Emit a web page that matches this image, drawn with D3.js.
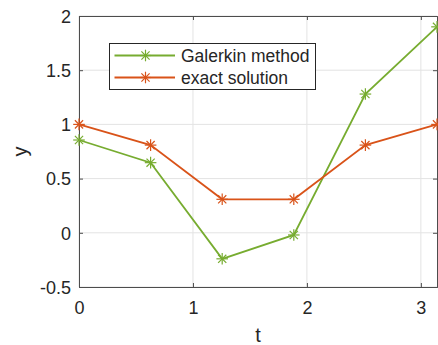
<!DOCTYPE html>
<html><head><meta charset="utf-8">
<script src="https://cdn.jsdelivr.net/npm/d3@7"></script>
<style>body{margin:0;background:#fff}svg{display:block}text{font-family:"Liberation Sans",Arial,sans-serif}</style>
</head><body>
<svg id="c" width="438" height="345"></svg>
<script>
const tValues = [0, Math.PI/5, 2*Math.PI/5, 3*Math.PI/5, 4*Math.PI/5, Math.PI];
const galerkin = [0.856, 0.647, -0.24, -0.02, 1.28, 1.90];
const exact = [1, 0.809, 0.309, 0.309, 0.809, 1];
const seriesNames = ["Galerkin method", "exact solution"];
const xTicks = [0, 1, 2, 3];
const yTicks = [-0.5, 0, 0.5, 1, 1.5, 2];
const colors = ["#77AC30", "#D95319"];

const svg = d3.select("#c");
const L = 79, R = 437, T = 16, B = 287;
const x = d3.scaleLinear().domain([0, Math.PI]).range([L, R]);
const y = d3.scaleLinear().domain([-0.5, 2]).range([B, T]);

// grid
const g = svg.append("g");
g.selectAll(".gx").data(xTicks).join("line")
  .attr("x1", d => x(d)).attr("x2", d => x(d)).attr("y1", T).attr("y2", B)
  .attr("stroke", "#e3e3e3").attr("stroke-width", 1);
g.selectAll(".gy").data(yTicks).join("line")
  .attr("y1", d => y(d)).attr("y2", d => y(d)).attr("x1", L).attr("x2", R)
  .attr("stroke", "#e3e3e3").attr("stroke-width", 1);

// axes
const ax = svg.append("g").attr("transform", `translate(0,${B})`)
  .call(d3.axisBottom(x).tickValues(xTicks).tickSize(-4).tickPadding(14).tickFormat(d3.format("d")));
const ay = svg.append("g").attr("transform", `translate(${L},0)`)
  .call(d3.axisLeft(y).tickValues(yTicks).tickSize(-4).tickPadding(8).tickFormat(d => String(d)));
const axT = svg.append("g").attr("transform", `translate(0,${T})`)
  .call(d3.axisTop(x).tickValues(xTicks).tickSize(-4).tickFormat(""));
const ayR = svg.append("g").attr("transform", `translate(${R},0)`)
  .call(d3.axisRight(y).tickValues(yTicks).tickSize(-4).tickFormat(""));
[ax, ay, axT, ayR].forEach(a => {
  a.select(".domain").attr("stroke", "#4d4d4d").attr("stroke-width", 1);
  a.selectAll(".tick line").attr("stroke", "#4d4d4d");
  a.selectAll("text").attr("fill", "#262626").style("font-size", "18px");
});
ax.selectAll("text").attr("dy", "0.71em");
ay.selectAll("text").attr("dy", "0.35em");

svg.append("text").attr("x", (L + R) / 2).attr("y", 342).attr("text-anchor", "middle")
  .style("font-size", "20px").attr("fill", "#262626").text("t");
svg.append("text").attr("transform", `translate(27,${(T + B) / 2}) rotate(-90)`).attr("text-anchor", "middle")
  .style("font-size", "20px").attr("fill", "#262626").text("y");

function star(sel, cx, cy, color) {
  const r = 5.8, d = r * 0.7071;
  const gg = sel.append("g").attr("stroke", color).attr("stroke-width", 1.2);
  gg.append("line").attr("x1", cx - r).attr("x2", cx + r).attr("y1", cy).attr("y2", cy);
  gg.append("line").attr("x1", cx).attr("x2", cx).attr("y1", cy - r).attr("y2", cy + r);
  gg.append("line").attr("x1", cx - d).attr("x2", cx + d).attr("y1", cy - d).attr("y2", cy + d);
  gg.append("line").attr("x1", cx - d).attr("x2", cx + d).attr("y1", cy + d).attr("y2", cy - d);
}

const line = d3.line().x(d => x(d[0])).y(d => y(d[1]));
[galerkin, exact].forEach((vals, i) => {
  const pts = tValues.map((t, j) => [t, vals[j]]);
  svg.append("path").attr("d", line(pts)).attr("fill", "none")
    .attr("stroke", colors[i]).attr("stroke-width", 1.8);
  pts.forEach(p => star(svg, x(p[0]), y(p[1]), colors[i]));
});

// legend
const lg = svg.append("g");
lg.append("rect").attr("x", 109.5).attr("y", 43.5).attr("width", 206).attr("height", 46)
  .attr("fill", "#fff").attr("stroke", "#262626").attr("stroke-width", 1);
seriesNames.forEach((n, i) => {
  const yy = 55.5 + i * 22;
  lg.append("line").attr("x1", 114.5).attr("x2", 175).attr("y1", yy).attr("y2", yy)
    .attr("stroke", colors[i]).attr("stroke-width", 1.8);
  star(lg, 145.5, yy, colors[i]);
  lg.append("text").attr("x", 181).attr("y", yy + 6.8)
    .style("font-size", "17.5px").attr("fill", "#262626").text(n);
});
</script>
</body></html>
